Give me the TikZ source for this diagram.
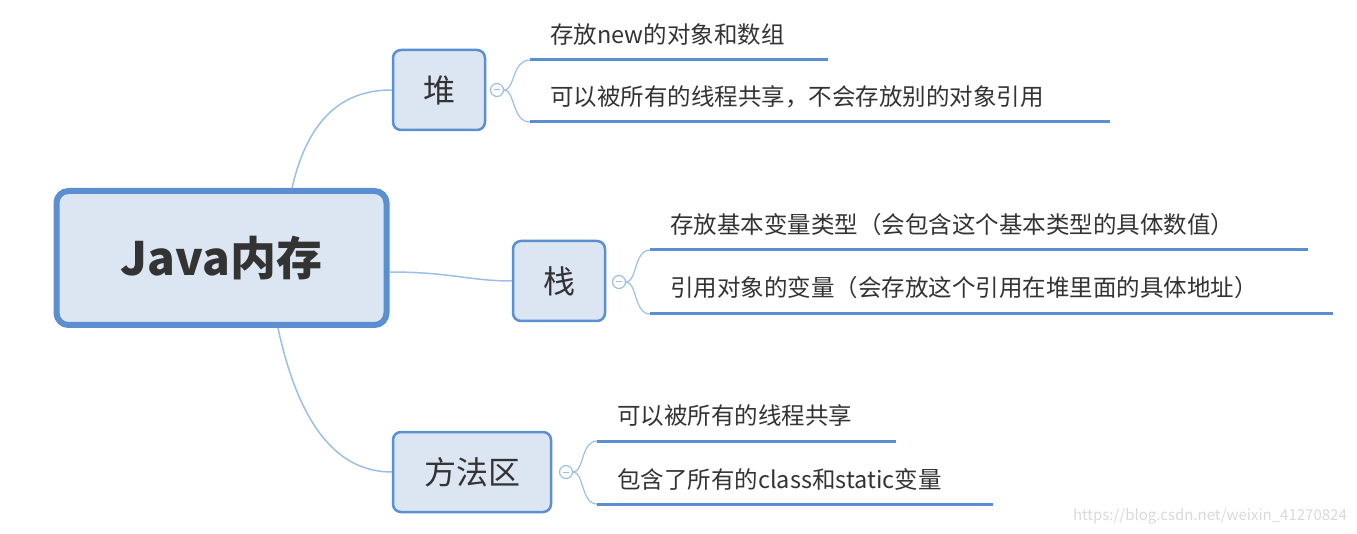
\documentclass[tikz,border=0pt]{standalone}
\usepackage{fontspec}
\setmainfont{Noto Sans CJK SC}
\definecolor{bord}{HTML}{5B8FD0}
\definecolor{fillb}{HTML}{DCE6F2}
\definecolor{conn}{HTML}{9DBFE6}
\definecolor{txt}{HTML}{333333}
\begin{document}
\begin{tikzpicture}[x=1pt,y=-1pt,
  topic/.style={draw=bord,fill=fillb,rounded corners=8pt,line width=2.5pt,text=txt,font=\fontsize{32}{36}\selectfont,inner sep=0pt},
  leaf/.style={anchor=west,text=txt,font=\fontsize{23.5}{27}\selectfont,inner sep=0pt},
  uline/.style={draw=bord,line width=3pt},
  br/.style={draw=conn,line width=1.2pt},
  knob/.style={circle,draw=conn,line width=1.2pt,fill=white,minimum size=13pt,inner sep=0pt},
  conn/.style={draw=conn,line width=1.5pt}]
\useasboundingbox (0,0) rectangle (1357,534);
\node[topic,line width=6pt,rounded corners=12pt,minimum width=330pt,minimum height=134pt,font=\fontsize{46}{52}\selectfont\bfseries] (main) at (221.5,258) {Java内存};
\node[topic,minimum width=92pt,minimum height=80pt] (heap) at (439,90) {堆};
\node[topic,minimum width=92pt,minimum height=80pt] (stack) at (559,281) {栈};
\node[topic,minimum width=158pt,minimum height=80pt] (meth) at (472,472) {方法区};
% connectors from main
\coordinate (m1) at (292,188);
\coordinate (m2) at (390,272);
\coordinate (m3) at (278,328);
\draw[conn] (m1) .. controls (310,110) and (350,90) .. (heap.west);
\draw[conn] (m2) .. controls (450,272) and (470,281) .. (stack.west);
\draw[conn] (m3) .. controls (300,430) and (340,472) .. (meth.west);
% knobs
\node[knob] (k1) at (497,90) {};
\node[knob] (k2) at (619,282) {};
\node[knob] (k3) at (566,472) {};
\foreach \k in {k1,k2,k3} \draw[conn,line width=1pt] ([xshift=-3pt]\k.center) -- ([xshift=3pt]\k.center);
% heap leaves
\coordinate (h1a) at (530,60); \coordinate (h1b) at (828,60);
\coordinate (h2a) at (530,122); \coordinate (h2b) at (1110,122);
\draw[br] (k1.east) .. controls (515,90) and (512,60) .. (h1a);
\draw[br] (k1.east) .. controls (515,90) and (512,122) .. (h2a);
\draw[uline] (h1a) -- (h1b);
\draw[uline] (h2a) -- (h2b);
\node[leaf] (t1) at (550,35) {存放new的对象和数组};
\node[leaf] (t2) at (550,97) {可以被所有的线程共享，不会存放别的对象引用};
% stack leaves
\coordinate (s1a) at (650,250); \coordinate (s1b) at (1308,250);
\coordinate (s2a) at (650,314); \coordinate (s2b) at (1333,314);
\draw[br] (k2.east) .. controls (637,282) and (634,250) .. (s1a);
\draw[br] (k2.east) .. controls (637,282) and (634,314) .. (s2a);
\draw[uline] (s1a) -- (s1b);
\draw[uline] (s2a) -- (s2b);
\node[leaf] (t3) at (670,225) {存放基本变量类型（会包含这个基本类型的具体数值）};
\node[leaf] (t4) at (670,288) {引用对象的变量（会存放这个引用在堆里面的具体地址）};
% method leaves
\coordinate (p1a) at (597,441); \coordinate (p1b) at (896,441);
\coordinate (p2a) at (597,504); \coordinate (p2b) at (993,504);
\draw[br] (k3.east) .. controls (584,472) and (581,441) .. (p1a);
\draw[br] (k3.east) .. controls (584,472) and (581,504) .. (p2a);
\draw[uline] (p1a) -- (p1b);
\draw[uline] (p2a) -- (p2b);
\node[leaf] (t5) at (617,416) {可以被所有的线程共享};
\node[leaf] (t6) at (617,479) {包含了所有的class和static变量};
\node[anchor=east,text=black!15,font=\fontsize{15}{18}\selectfont,inner sep=0pt] (wm) at (1347,516) {https://blog.csdn.net/weixin\_41270824};
\end{tikzpicture}
\end{document}
